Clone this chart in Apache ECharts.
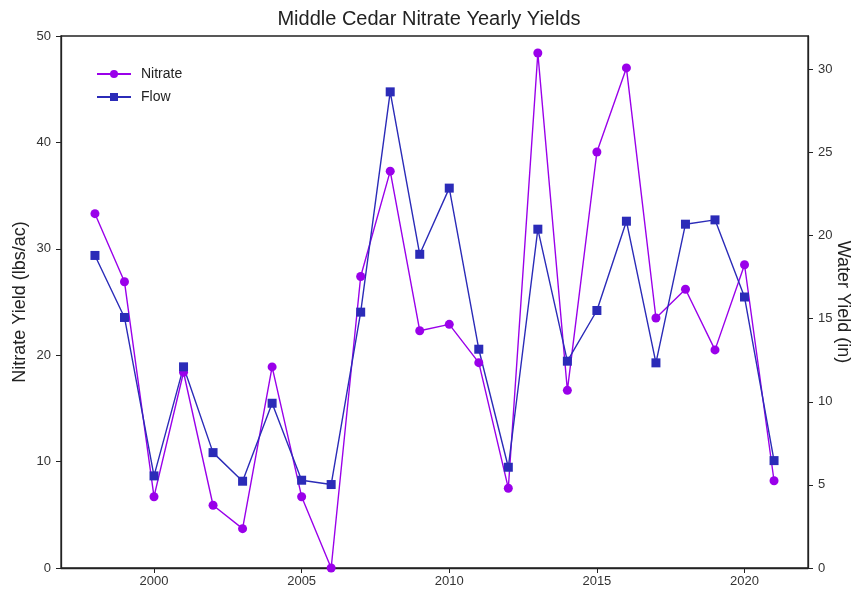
<!DOCTYPE html>
<html>
<head>
<meta charset="utf-8">
<script src="https://cdn.jsdelivr.net/npm/echarts@6/dist/echarts.min.js"></script>
<style>html,body{margin:0;padding:0;background:#fff}#c{width:858px;height:595px}</style>
</head>
<body>
<div id="c"></div>
<script>
const years = [1998,1999,2000,2001,2002,2003,2004,2005,2006,2007,2008,2009,2010,2011,2012,2013,2014,2015,2016,2017,2018,2019,2020,2021];
const nitrate = [33.3,26.9,6.7,18.4,5.9,3.7,18.9,6.7,0.0,27.4,37.3,22.3,22.9,19.3,7.5,48.4,16.7,39.1,47.0,23.5,26.2,20.5,28.5,8.2];
const flow = [18.8,15.07,5.54,12.1,6.94,5.22,9.91,5.28,5.02,15.39,28.64,18.87,22.85,13.16,6.06,20.38,12.44,15.49,20.86,12.34,20.68,20.94,16.3,6.46];
const xTicks = [2000,2005,2010,2015,2020];
const leftTicks = [0,10,20,30,40,50];
const rightTicks = [0,5,10,15,20,25,30];

const font = 'Liberation Sans, Arial, sans-serif';
const purple = '#9a00ea';
const blue = '#2b2bb8';
const chart = echarts.init(document.getElementById('c'));
const axisCommon = {
  axisLine: {show: true, lineStyle: {color: '#222', width: 1.3}},
  axisTick: {show: true, inside: false, length: 5, lineStyle: {color: '#222', width: 1}},
  axisLabel: {color: '#333', fontSize: 13, fontFamily: font},
  splitLine: {show: false}
};
chart.setOption({
  animation: false,
  backgroundColor: '#fff',
  title: {text: 'Middle Cedar Nitrate Yearly Yields', left: 'center', top: 4,
    textStyle: {fontFamily: font, fontSize: 20, fontWeight: 'normal', color: '#222'}},
  legend: {left: 91, top: 62, orient: 'vertical', itemGap: 9, itemWidth: 34, itemHeight: 10,
    textStyle: {fontFamily: font, fontSize: 14, color: '#222', padding: [0, 0, 0, 5]},
    data: ['Nitrate', 'Flow']},
  grid: {left: 61, right: 50, top: 36, bottom: 27, show: true, borderColor: '#222', borderWidth: 1.3,
    containLabel: false, outerBoundsMode: 'none'},
  xAxis: Object.assign({}, axisCommon, {
    type: 'value', min: 1996.85, max: 2022.15,
    axisTick: Object.assign({}, axisCommon.axisTick, {customValues: xTicks}),
    axisLabel: Object.assign({}, axisCommon.axisLabel, {customValues: xTicks, margin: 7, formatter: v => String(v)})
  }),
  yAxis: [
    Object.assign({}, axisCommon, {
      type: 'value', min: 0, max: 50, interval: 10, position: 'left',
      axisLabel: Object.assign({}, axisCommon.axisLabel, {margin: 10}),
      name: 'Nitrate Yield (lbs/ac)', nameLocation: 'middle', nameGap: 32, nameMoveOverlap: false,
      nameTextStyle: {fontFamily: font, fontSize: 18, color: '#222'}
    }),
    Object.assign({}, axisCommon, {
      type: 'value', min: 0, max: 32, position: 'right',
      axisTick: Object.assign({}, axisCommon.axisTick, {customValues: rightTicks}),
      axisLabel: Object.assign({}, axisCommon.axisLabel, {customValues: rightTicks, margin: 10}),
      name: 'Water Yield (in)', nameLocation: 'middle', nameGap: 26, nameRotate: -90, nameMoveOverlap: false,
      nameTextStyle: {fontFamily: font, fontSize: 18, color: '#222'}
    })
  ],
  series: [
    {name: 'Nitrate', type: 'line', yAxisIndex: 0, data: years.map((y, i) => [y, nitrate[i]]),
      symbol: 'circle', symbolSize: 9, lineStyle: {color: purple, width: 1.4},
      itemStyle: {color: purple}},
    {name: 'Flow', type: 'line', yAxisIndex: 1, data: years.map((y, i) => [y, flow[i]]),
      symbol: 'rect', symbolSize: 9, lineStyle: {color: blue, width: 1.4},
      itemStyle: {color: blue}}
  ]
});
</script>
</body>
</html>
